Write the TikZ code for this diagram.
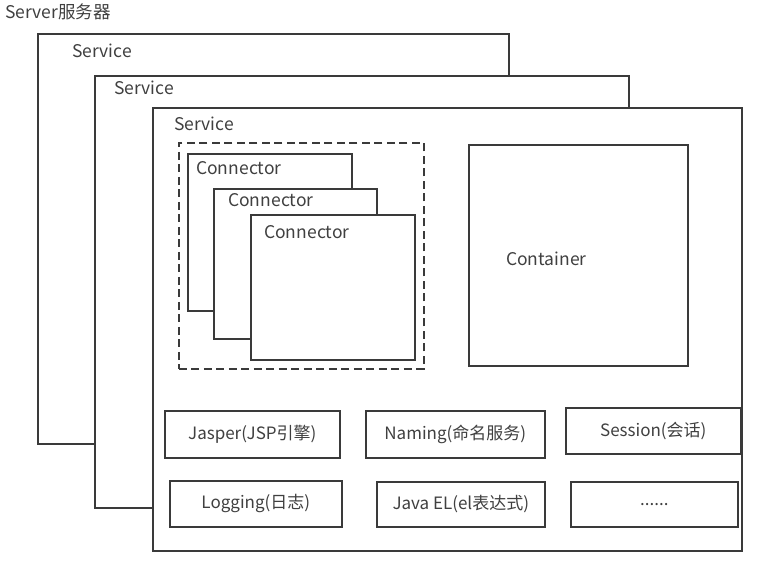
\documentclass[tikz,border=0pt]{standalone}
\usepackage{fontspec}
\setmainfont{Noto Sans CJK SC}
\usetikzlibrary{calc}
\definecolor{ln}{HTML}{3A3A3A}
\definecolor{tx}{HTML}{404040}
\begin{document}
\begin{tikzpicture}[x=1pt,y=-1pt,
  box/.style={draw=ln,line width=1.6pt,fill=white,inner sep=0pt,anchor=north west},
  dbox/.style={draw=ln,line width=1.6pt,dash pattern=on 8pt off 4.5pt,inner sep=0pt,anchor=north west},
  lbl/.style={text=tx,font=\fontsize{17.5}{20}\selectfont,inner sep=0pt,anchor=west},
  tag/.style={text=tx,font=\fontsize{17}{20}\selectfont,inner sep=0pt}]
\useasboundingbox (0,0) rectangle (770,562);
\node[lbl] (server) at (5,12) {Server服务器};
% services
\node[box,minimum width=471pt,minimum height=410pt] (s1) at (37,33) {};
\node[lbl] (s1l) at (72,51) {Service};
\node[box,minimum width=534pt,minimum height=432pt] (s2) at (94,75) {};
\node[lbl] (s2l) at (114,88) {Service};
\node[box,minimum width=589pt,minimum height=443pt] (s3) at (152,107) {};
\node[lbl] (s3l) at (174,124) {Service};
% connectors
\node[dbox,minimum width=245pt,minimum height=226pt] (dash) at (178,142) {};
\node[box,minimum width=164pt,minimum height=157pt] (c1) at (187,153) {};
\node[lbl] (c1l) at (196,168) {Connector};
\node[box,minimum width=163pt,minimum height=150pt] (c2) at (213,188) {};
\node[lbl] (c2l) at (228,200) {Connector};
\node[box,minimum width=164pt,minimum height=145pt] (c3) at (250,214) {};
\node[lbl] (c3l) at (264,232) {Connector};
% container
\node[box,minimum width=219pt,minimum height=221pt] (cont) at (468,144) {};
\node[lbl] (contl) at (506,259) {Container};
% components
\node[box,minimum width=175pt,minimum height=47pt] (jasper) at (164,410) {};
\node[tag] at (jasper.center) {Jasper(JSP引擎)};
\node[box,minimum width=179pt,minimum height=47pt] (naming) at (365,410) {};
\node[tag] at (naming.center) {Naming(命名服务)};
\node[box,minimum width=175pt,minimum height=46pt] (session) at (565,407) {};
\node[tag] at (session.center) {Session(会话)};
\node[box,minimum width=172pt,minimum height=46pt] (logging) at (169,480) {};
\node[tag] at (logging.center) {Logging(日志)};
\node[box,minimum width=168pt,minimum height=45pt] (javael) at (376,481) {};
\node[tag] at (javael.center) {Java EL(el表达式)};
\node[box,minimum width=167pt,minimum height=45pt] (more) at (570,481) {};
\node[tag] at (more.center) {......};
\end{tikzpicture}
\end{document}
